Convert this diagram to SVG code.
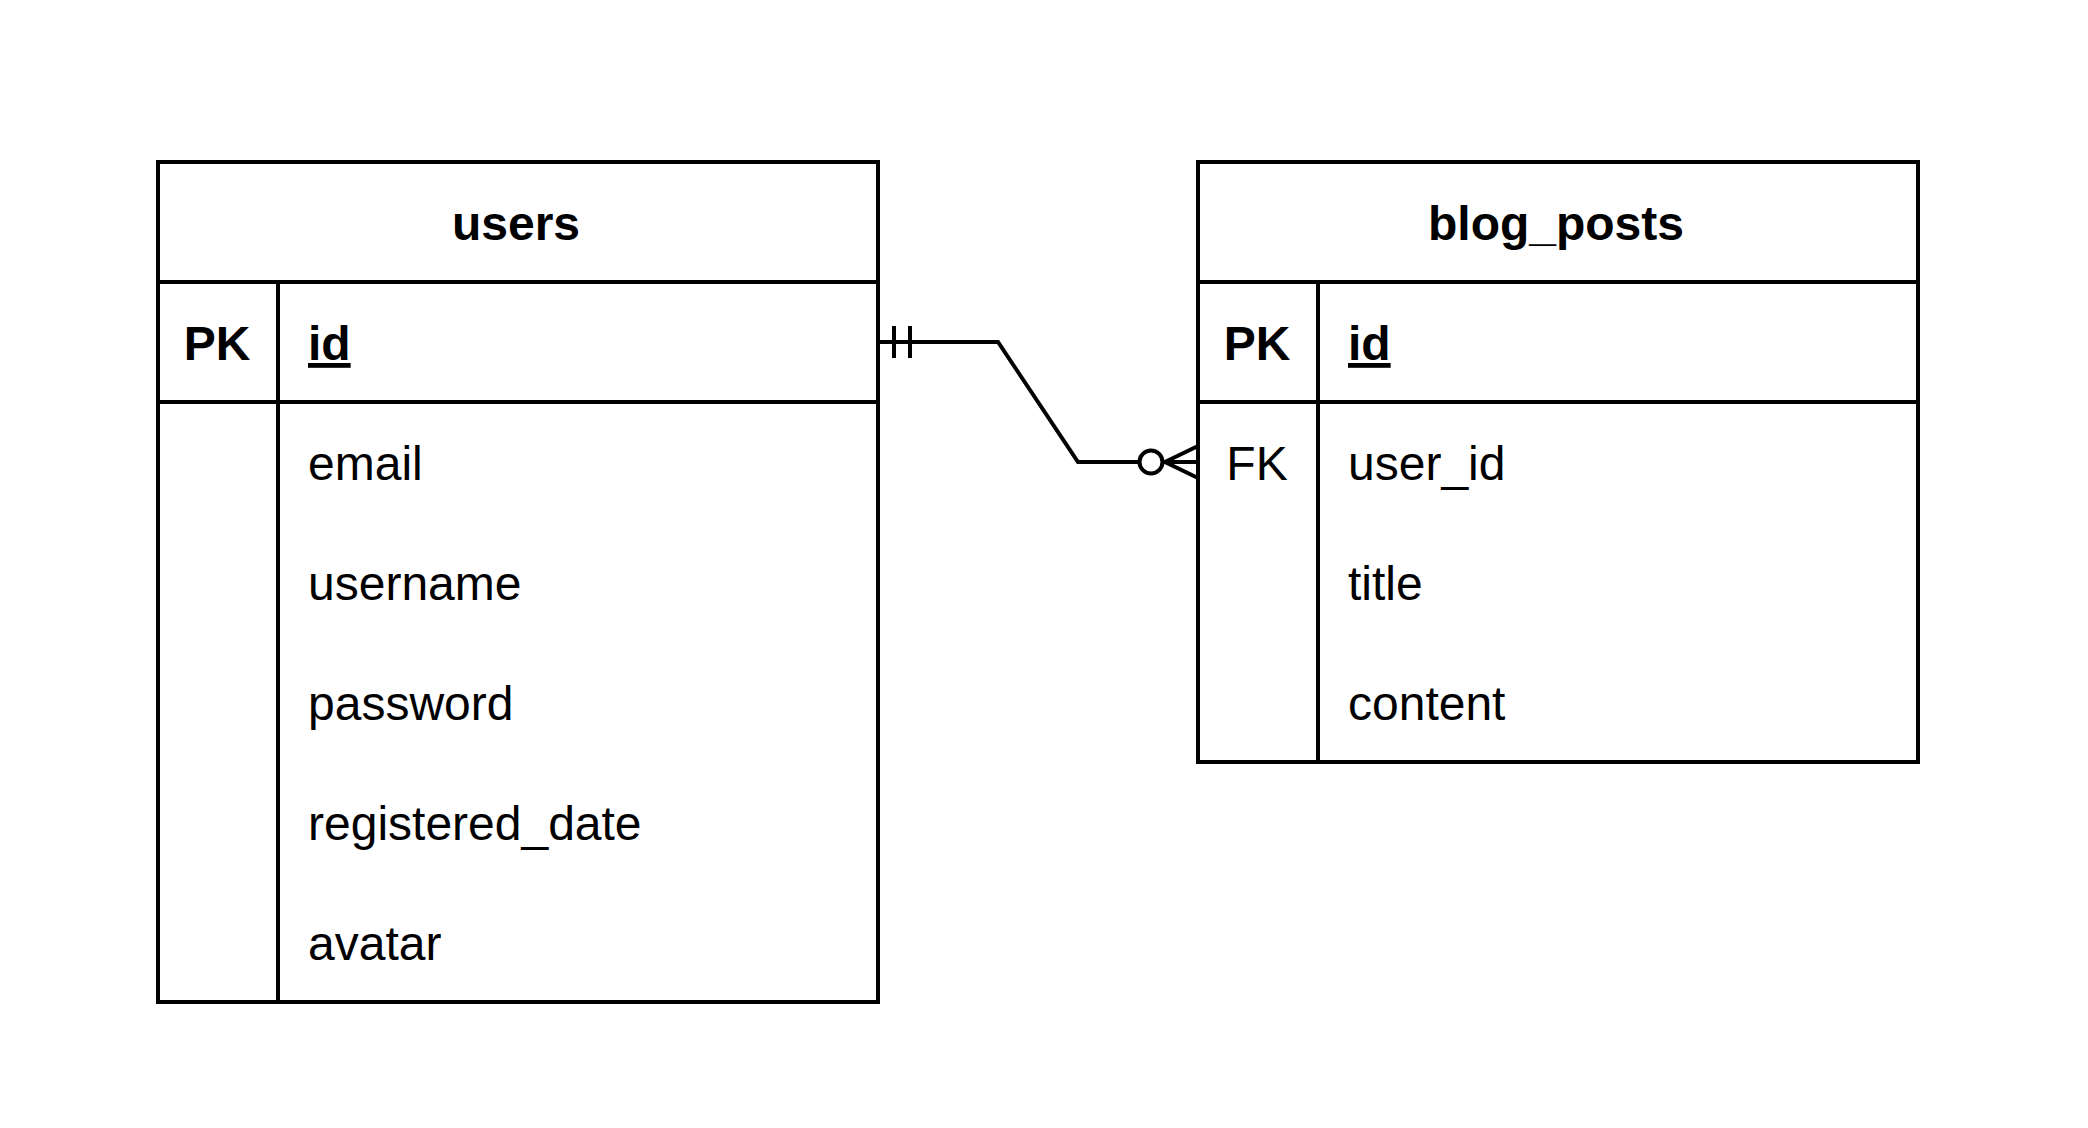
<svg xmlns="http://www.w3.org/2000/svg" width="2088" height="1128" viewBox="0 0 2088 1128">
<style>
.box{fill:#fff;stroke:#000;stroke-width:4}
.ln{fill:none;stroke:#000;stroke-width:4}
text{font-family:"Liberation Sans",Arial,Helvetica,sans-serif;font-size:48px;fill:#000}
.b{font-weight:bold}
.c{text-anchor:middle}
.u{text-decoration:underline}
</style>
<rect x="0" y="0" width="2088" height="1128" fill="#fff"/>
<g id="users">
<rect class="box" x="158" y="162" width="720" height="840"/>
<line class="ln" x1="158" y1="282" x2="878" y2="282"/>
<line class="ln" x1="158" y1="402" x2="878" y2="402"/>
<line class="ln" x1="278" y1="282" x2="278" y2="1002"/>
<text class="b c" x="516" y="240">users</text>
<text class="b c" x="217" y="360">PK</text>
<text class="b u" x="308" y="360">id</text>
<text x="308" y="480">email</text>
<text x="308" y="600">username</text>
<text x="308" y="720">password</text>
<text x="308" y="840">registered_date</text>
<text x="308" y="960">avatar</text>
</g>
<g id="blog_posts">
<rect class="box" x="1198" y="162" width="720" height="600"/>
<line class="ln" x1="1198" y1="282" x2="1918" y2="282"/>
<line class="ln" x1="1198" y1="402" x2="1918" y2="402"/>
<line class="ln" x1="1318" y1="282" x2="1318" y2="762"/>
<text class="b c" x="1556" y="240">blog_posts</text>
<text class="b c" x="1257" y="360">PK</text>
<text class="b u" x="1348" y="360">id</text>
<text class="c" x="1257" y="480">FK</text>
<text x="1348" y="480">user_id</text>
<text x="1348" y="600">title</text>
<text x="1348" y="720">content</text>
</g>
<g id="connectors">
<polyline class="ln" points="878,342 998,342 1078,462 1139,462"/>
<line class="ln" x1="894" y1="326" x2="894" y2="358"/>
<line class="ln" x1="910" y1="326" x2="910" y2="358"/>
<circle class="ln" cx="1151" cy="462" r="11.5"/>
<line class="ln" x1="1162.5" y1="462" x2="1198" y2="462"/>
<polyline class="ln" points="1198,446 1165,462 1198,478"/>
</g>
</svg>
